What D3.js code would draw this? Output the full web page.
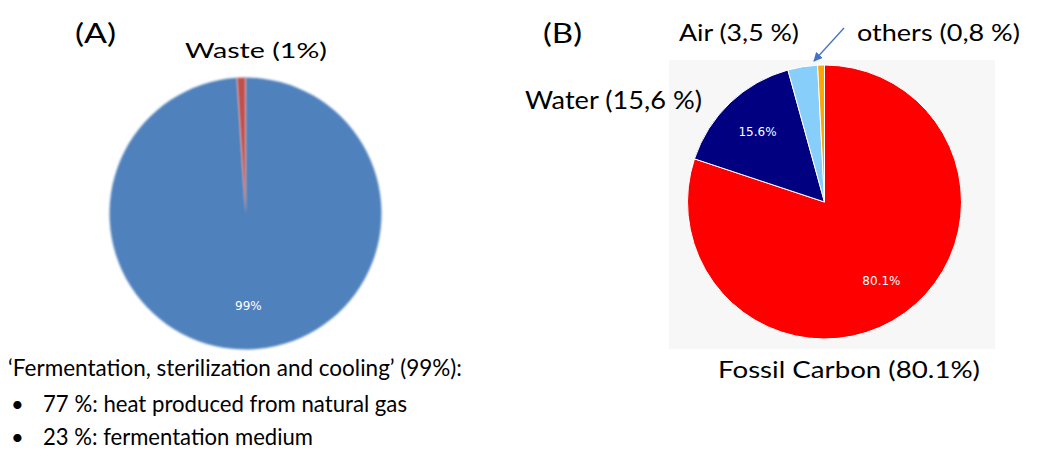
<!DOCTYPE html>
<head>
  <meta charset="utf-8">
  <script src="https://d3js.org/d3.v7.min.js"></script>
  <style>
    body { margin: 0; background: #fff; }
    .lbl { font-family: Lato, "Open Sans", sans-serif; fill: #000; }
    .inner { font-family: "DejaVu Sans", Verdana, sans-serif; fill: #fff; font-size: 12px; text-anchor: middle; }
  </style>
</head>
<body>
<script>
  // panel A
  var catsA = ["Fermentation, sterilization and cooling", "Waste"];
  var valsA = [99, 1];
  var colorsA = ["#4f81bd", "#c0504d"];
  var innerA = ["99%", ""];

  // panel B
  var catsB = ["Fossil Carbon", "Water", "Air", "others"];
  var valsB = [80.1, 15.6, 3.5, 0.8];
  var colorsB = ["#ff0000", "#000080", "#87cefa", "#ffa500"];
  var innerB = ["80.1%", "15.6%", "", ""];

  var width = 1045, height = 452;

  var svg = d3.select("body").append("svg")
      .attr("width", width)
      .attr("height", height);

  var defs = svg.append("defs");
  var blur = defs.append("filter").attr("id", "soft")
      .attr("x", "-10%").attr("y", "-10%").attr("width", "120%").attr("height", "120%");
  blur.append("feGaussianBlur").attr("stdDeviation", 0.8);

  var pie = d3.pie().sort(null).value(function(d) { return d; });

  // ---- pie A ----
  var rA = 136;
  var gA = svg.append("g").attr("transform", "translate(245.5,213.5)");
  var arcA = d3.arc().innerRadius(0).outerRadius(rA);
  gA.selectAll("path")
      .data(pie(valsA))
    .enter().append("path")
      .attr("d", arcA)
      .attr("fill", function(d, i) { return colorsA[i]; })
      .attr("filter", "url(#soft)");
  gA.selectAll("text")
      .data(pie(valsA))
    .enter().append("text")
      .attr("class", "inner")
      .attr("transform", function(d) {
        var c = d3.arc().innerRadius(rA * 0.68).outerRadius(rA * 0.68).centroid(d);
        return "translate(" + c + ")";
      })
      .attr("dy", "0.35em")
      .text(function(d, i) { return innerA[i]; });

  // ---- pie B ----
  svg.append("rect")
      .attr("x", 669).attr("y", 60)
      .attr("width", 326).attr("height", 289)
      .attr("fill", "#f7f7f7");

  var rB = 137;
  var gB = svg.append("g").attr("transform", "translate(824.5,202)");
  var arcB = d3.arc().innerRadius(0).outerRadius(rB);
  gB.selectAll("path")
      .data(pie(valsB))
    .enter().append("path")
      .attr("d", arcB)
      .attr("fill", function(d, i) { return colorsB[i]; })
      .attr("stroke", "#fff")
      .attr("stroke-width", 1);
  gB.selectAll("text")
      .data(pie(valsB))
    .enter().append("text")
      .attr("class", "inner")
      .attr("transform", function(d) {
        var c = d3.arc().innerRadius(rB * 0.71).outerRadius(rB * 0.71).centroid(d);
        return "translate(" + c + ")";
      })
      .attr("dy", "0.35em")
      .text(function(d, i) { return innerB[i]; });

  // ---- labels ----
  function label(txt, x, y, size, len) {
    var t = svg.append("text").attr("class", "lbl")
        .attr("x", x).attr("y", y)
        .style("font-size", size + "px")
        .text(txt);
    if (len) t.attr("textLength", len).attr("lengthAdjust", "spacingAndGlyphs");
    return t;
  }

  label("(A)", 75, 43, 27, 41);
  label("Waste (" + valsA[1] + "%)", 185, 58, 22, 142);
  label("(B)", 543, 43, 27, 39);
  label("Air (3,5 %)", 679, 41, 23, 120);
  label("others (0,8 %)", 857, 41, 23, 163);
  label("Water (15,6 %)", 525, 109, 25, 177);
  label("Fossil Carbon (" + valsB[0] + "%)", 718, 378, 23, 262);

  label("\u2018Fermentation, sterilization and cooling\u2019 (" + valsA[0] + "%):", 8, 376, 24, 454);
  label("\u2022", 11, 412, 22);
  label("77 %: heat produced from natural gas", 43, 412, 24, 364);
  label("\u2022", 11, 445, 22);
  label("23 %: fermentation medium", 43, 445, 24, 270);

  // arrow to "others"
  defs.append("marker").attr("id", "ah")
      .attr("viewBox", "0 0 10 10").attr("refX", 9).attr("refY", 5)
      .attr("markerWidth", 7).attr("markerHeight", 7)
      .attr("orient", "auto")
    .append("path").attr("d", "M0,0 L10,5 L0,10 z").attr("fill", "#4472c4");
  svg.append("line")
      .attr("x1", 844).attr("y1", 28)
      .attr("x2", 814).attr("y2", 61)
      .attr("stroke", "#4472c4").attr("stroke-width", 1.3)
      .attr("marker-end", "url(#ah)");
</script>
</body>
